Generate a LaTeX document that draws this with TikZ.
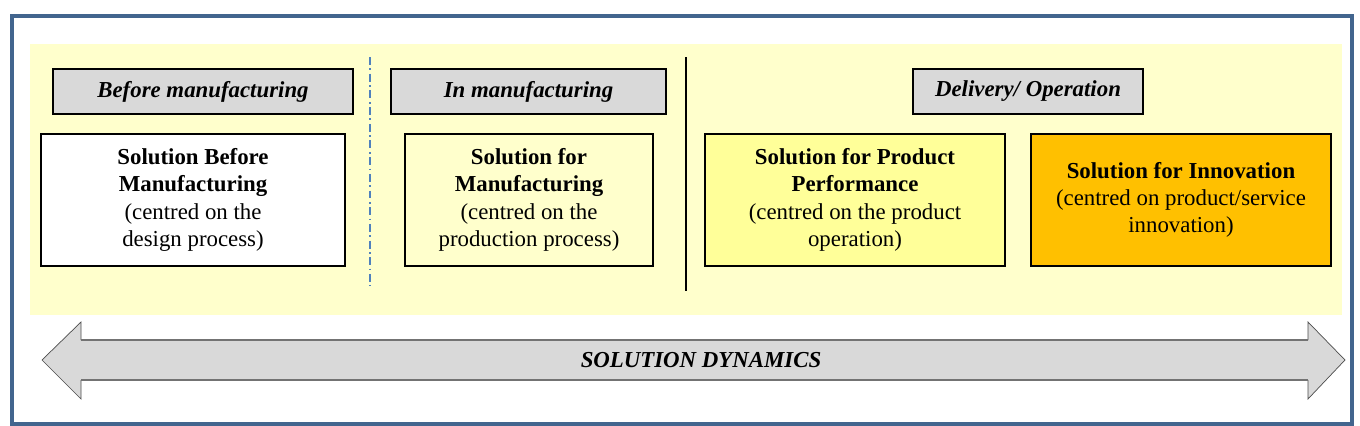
\documentclass[tikz,border=0pt]{standalone}
\usepackage{fontspec}
\setmainfont{Liberation Serif}
\usetikzlibrary{shadows}

\definecolor{framblue}{RGB}{66,101,142}
\definecolor{panelyellow}{RGB}{255,255,204}
\definecolor{headgray}{RGB}{217,217,217}
\definecolor{perfyellow}{RGB}{255,255,153}
\definecolor{innoorange}{RGB}{255,192,0}
\definecolor{dashblue}{RGB}{79,129,189}

\begin{document}
\begin{tikzpicture}[x=0.02cm,y=-0.02cm,
    header/.style={draw=black,line width=1.1pt,fill=headgray,minimum width=#1,
      minimum height=0.9cm,font=\fontsize{13}{15.5}\selectfont\bfseries\itshape,
      drop shadow={shadow xshift=0.8pt,shadow yshift=-0.8pt,fill=black,opacity=1}},
    solbox/.style 2 args={draw=black,line width=1.1pt,fill=#2,minimum width=#1,
      minimum height=2.64cm,align=center,font=\fontsize{13}{15.5}\selectfont,
      drop shadow={shadow xshift=0.8pt,shadow yshift=-0.8pt,fill=black,opacity=1}}]
    \useasboundingbox (0,0) rectangle (1360,426);
    \fill[white] (0,0) rectangle (1360,426);
    \draw[framblue,line width=2pt] (12,16) rectangle (1352,424);
    \fill[panelyellow] (30,44) rectangle (1342,315);

    % phase dividers
    \draw[dashblue,line width=1.4pt,dash pattern=on 4.5pt off 2pt on 1pt off 2pt] (370,57) -- (370,286);
    \draw[black,line width=1.1pt] (686,57) -- (686,291);

    % phase headers
    \node[header=6cm] (hdrBefore) at (203,91.5) {Before manufacturing};
    \node[header=5.5cm] (hdrIn) at (528.5,91.5) {In manufacturing};
    \node[header=4.6cm] (hdrDelivery) at (1028,91.5) {Delivery/ Operation};

    % solutions
    \node[solbox={6.08cm}{white}] (solBefore) at (193,200)
      {\textbf{Solution Before}\\ \textbf{Manufacturing}\\ (centred on the\\ design process)};
    \node[solbox={4.96cm}{panelyellow}] (solManuf) at (529,200)
      {\textbf{Solution for}\\ \textbf{Manufacturing}\\ (centred on the\\ production process)};
    \node[solbox={6cm}{perfyellow}] (solPerf) at (855,200)
      {\textbf{Solution for Product}\\ \textbf{Performance}\\ (centred on the product\\ operation)};
    \node[solbox={6cm}{innoorange}] (solInno) at (1181,200)
      {\textbf{Solution for Innovation}\\ (centred on product/service\\ innovation)};

    % dynamics arrow
    \fill[headgray] (42,360) -- (81,322) -- (81,340) -- (1308,340) -- (1308,322) -- (1345,360)
      -- (1308,399) -- (1308,380) -- (81,380) -- (81,399) -- cycle;
    \draw[black!70,line width=0.4pt] (81,340) -- (81,322) -- (42,360) -- (81,399) -- (81,380);
    \draw[black!70,line width=0.4pt] (1308,340) -- (1308,322) -- (1345,360) -- (1308,399) -- (1308,380);
    \draw[black!55,line width=1.6pt] (81,340) -- (1308,340);
    \draw[black!55,line width=1.6pt] (81,380) -- (1308,380);
    \node[font=\fontsize{13}{15.5}\selectfont\bfseries\itshape] (dynLabel) at (701,360) {SOLUTION DYNAMICS};
  \end{tikzpicture}
\end{document}
